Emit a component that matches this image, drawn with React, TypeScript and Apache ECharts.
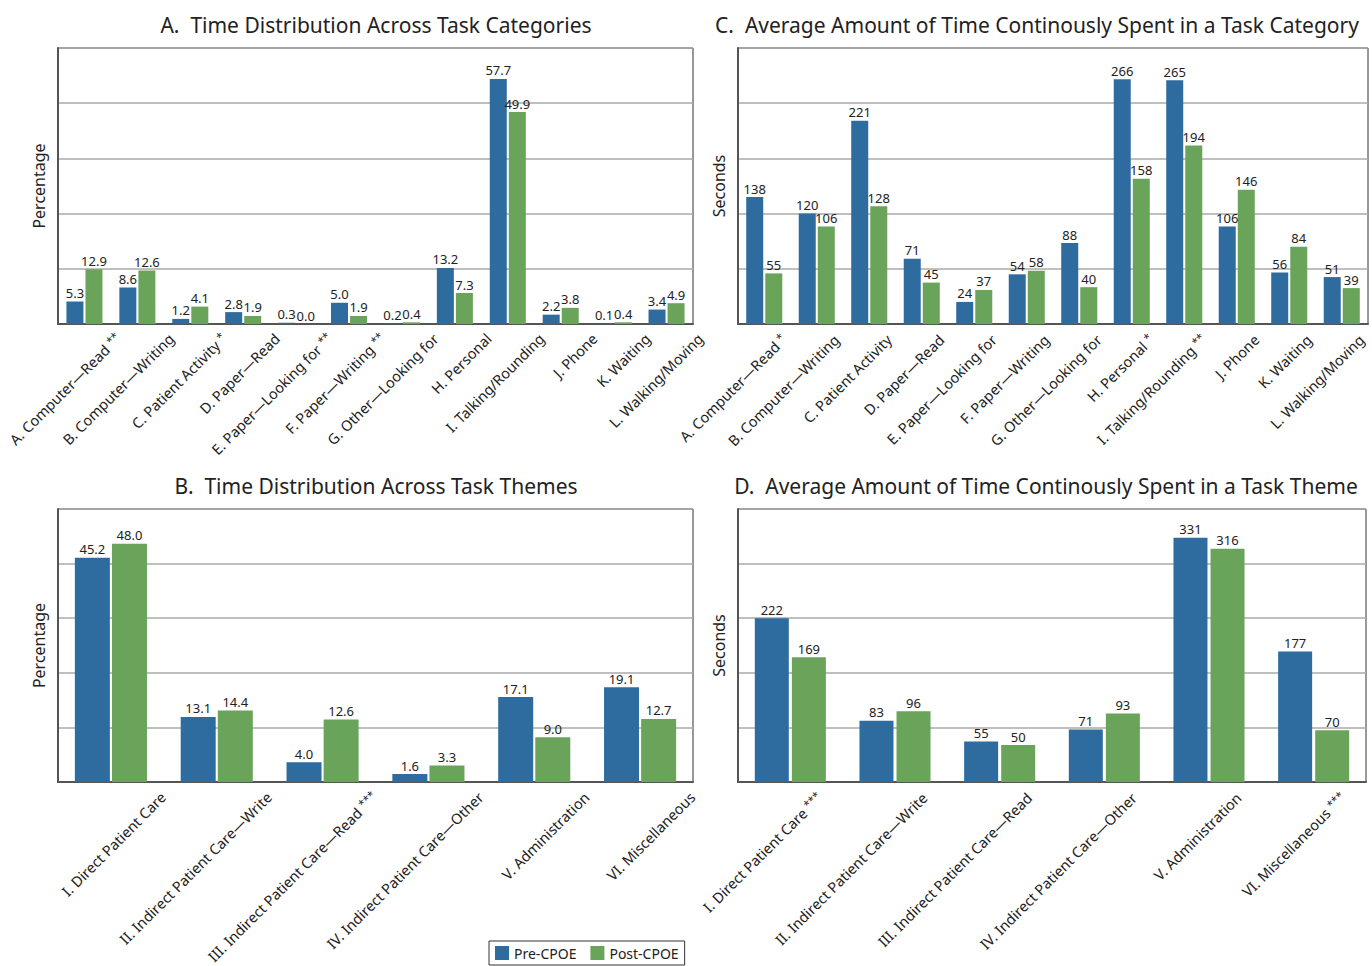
import React, { useEffect, useRef } from "react";
import * as echarts from "echarts";

const catA = ["A. Computer—Read **", "B. Computer—Writing", "C. Patient Activity *", "D. Paper—Read", "E. Paper—Looking for **", "F. Paper—Writing **", "G. Other—Looking for", "H. Personal", "I. Talking/Rounding", "J. Phone", "K. Waiting", "L. Walking/Moving"];
const preA = [5.3, 8.6, 1.2, 2.8, 0.3, 5.0, 0.2, 13.2, 57.7, 2.2, 0.1, 3.4];
const postA = [12.9, 12.6, 4.1, 1.9, 0.0, 1.9, 0.4, 7.3, 49.9, 3.8, 0.4, 4.9];

const catC = ["A. Computer—Read *", "B. Computer—Writing", "C. Patient Activity", "D. Paper—Read", "E. Paper—Looking for", "F. Paper—Writing", "G. Other—Looking for", "H. Personal *", "I. Talking/Rounding **", "J. Phone", "K. Waiting", "L. Walking/Moving"];
const preC = [138, 120, 221, 71, 24, 54, 88, 266, 265, 106, 56, 51];
const postC = [55, 106, 128, 45, 37, 58, 40, 158, 194, 146, 84, 39];

const catB = ["I. Direct Patient Care", "II. Indirect Patient Care—Write", "III. Indirect Patient Care—Read ***", "IV. Indirect Patient Care—Other", "V. Administration", "VI. Miscellaneous"];
const preB = [45.2, 13.1, 4.0, 1.6, 17.1, 19.1];
const postB = [48.0, 14.4, 12.6, 3.3, 9.0, 12.7];

const catD = ["I. Direct Patient Care ***", "II. Indirect Patient Care—Write", "III. Indirect Patient Care—Read", "IV. Indirect Patient Care—Other", "V. Administration", "VI. Miscellaneous ***"];
const preD = [222, 83, 55, 71, 331, 177];
const postD = [169, 96, 50, 93, 316, 70];

const titles = [
  "A.  Time Distribution Across Task Categories",
  "B.  Time Distribution Across Task Themes",
  "C.  Average Amount of Time Continously Spent in a Task Category",
  "D.  Average Amount of Time Continously Spent in a Task Theme",
];
const seriesNames = ["Pre-CPOE", "Post-CPOE"];

const FONT = "Noto Sans";
const BLUE = "#2e6b9e";
const GREEN = "#6aa35a";
const TXT = "#222";

function labelFmt(v: string) {
  const m = v.match(/^(.*?)\s*(\*+)$/);
  if (m) return m[1] + " {sup|" + m[2] + "}";
  return v;
}

export default function App() {
  const ref = useRef<HTMLDivElement>(null);
  useEffect(() => {
    if (!ref.current) return;
    const chart = echarts.init(ref.current, undefined, { renderer: "svg" });

    const grids = [
      { left: 58, top: 48, width: 635, height: 276 },
      { left: 58, top: 509, width: 635, height: 273 },
      { left: 738, top: 48, width: 630, height: 276 },
      { left: 738, top: 509, width: 628, height: 273 },
    ];
    const cats = [catA, catB, catC, catD];
    const maxes = [65, 55, 300, 370];
    const names = ["Percentage", "Percentage", "Seconds", "Seconds"];
    const pres = [preA, preB, preC, preD];
    const posts = [postA, postB, postC, postD];
    const barWidths = [17, 35, 17, 34];
    const barGaps = ["12%", "6%", "12%", "9%"];
    const decimals = [1, 1, 0, 0];
    const padR = [-48, -74, -28, -42];
    const margins = [46, 65, 33, 43];
    const titleX = [376, 376, 1037, 1046];
    const titleY = [25, 486, 25, 486];

    const xAxis = cats.map((c, i) => ({
      type: "category",
      gridIndex: i,
      data: c,
      axisTick: { show: false },
      axisLine: { show: true, lineStyle: { color: "#555", width: 2 } },
      axisLabel: {
        interval: 0,
        rotate: 45,
        margin: margins[i],
        padding: [0, padR[i], 0, 0],
        fontFamily: FONT,
        fontSize: 14.5,
        color: TXT,
        formatter: labelFmt,
        rich: {
          sup: { fontSize: 11, fontFamily: FONT, color: TXT, verticalAlign: "top", padding: [0, 0, 6, 0] },
        },
      },
    }));
    const yAxis = cats.map((_, i) => ({
      type: "value",
      gridIndex: i,
      min: 0,
      max: maxes[i],
      interval: maxes[i] / 5,
      name: names[i],
      nameLocation: "middle",
      nameGap: 11,
      nameTextStyle: { fontFamily: FONT, fontSize: 16, color: TXT },
      axisLabel: { show: false },
      axisTick: { show: false },
      axisLine: { show: true, lineStyle: { color: "#555", width: 2 } },
      splitLine: { show: true, lineStyle: { color: "#aaa", width: 1.5 } },
    }));
    const series: any[] = [];
    cats.forEach((_, i) => {
      [pres[i], posts[i]].forEach((arr, k) => {
        series.push({
          type: "bar",
          name: seriesNames[k],
          xAxisIndex: i,
          yAxisIndex: i,
          data: arr,
          barWidth: barWidths[i],
          barGap: barGaps[i],
          itemStyle: { color: k === 0 ? BLUE : GREEN },
          label: {
            show: true,
            position: "top",
            distance: 2,
            fontFamily: FONT,
            fontSize: 13,
            color: TXT,
            formatter: (p: any) => Number(p.value).toFixed(decimals[i]),
          },
        });
      });
    });

    chart.setOption({
      animation: false,
      backgroundColor: "#fff",
      grid: grids.map((g) => ({
        ...g,
        show: true,
        borderColor: "#333",
        borderWidth: 1,
        backgroundColor: "transparent",
        containLabel: false,
        outerBoundsMode: "none",
      })),
      xAxis,
      yAxis,
      series,
      legend: {
        data: seriesNames,
        left: 489,
        top: 941,
        orient: "horizontal",
        borderColor: "#333",
        borderWidth: 1,
        padding: [5, 6, 5, 6],
        itemWidth: 14,
        itemHeight: 14,
        itemGap: 14,
        icon: "rect",
        textStyle: { fontFamily: FONT, fontSize: 14, color: TXT },
      },
      graphic: titles.map((t, i) => ({
        type: "text",
        x: titleX[i],
        y: titleY[i],
        style: {
          text: t,
          fontFamily: FONT,
          fontSize: 21,
          fill: TXT,
          align: "center",
          verticalAlign: "middle",
          textAlign: "center",
          textVerticalAlign: "middle",
        },
      })),
    });
    return () => chart.dispose();
  }, []);
  return (
    <div
      ref={ref}
      style={{ position: "fixed", left: 0, top: 0, width: 1372, height: 966, background: "#fff" }}
    />
  );
}
